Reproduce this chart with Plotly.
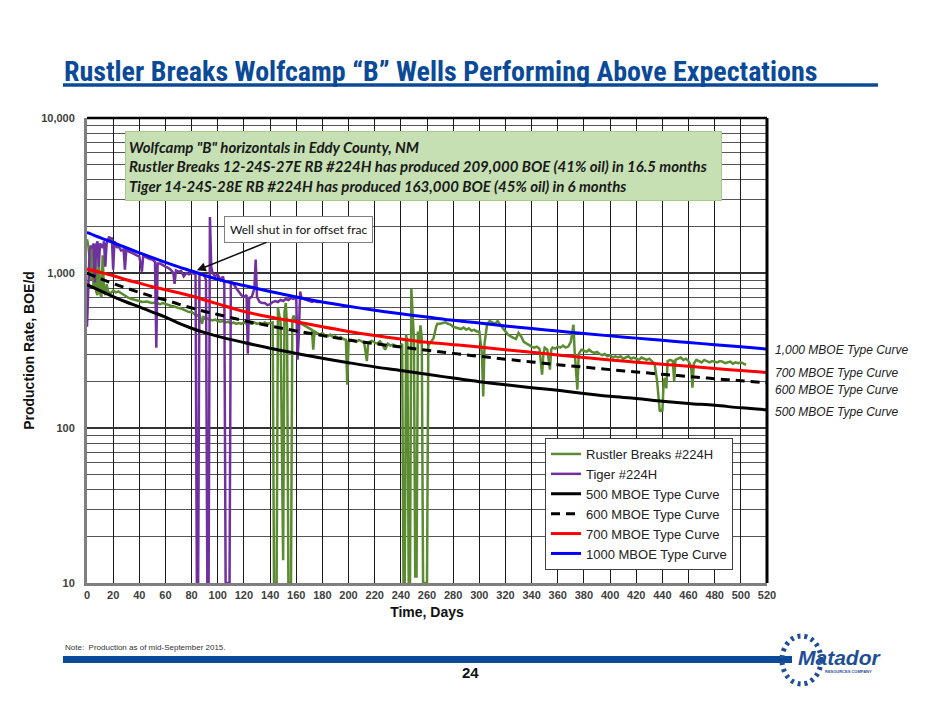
import plotly.graph_objects as go
import math

# ---------------- data ----------------
rb_days = [0,1,2,3,4,5,6,7,8,9,10,11,12,13,14,15,16,18,20,22,24,26,28,30,32,34,36,38,40,42,44,46,48,50,
           52,54,56,58,60,62,64,66,68,70,72,74,76,78,80,82,84,86,88,89,90,92,94,96,98,100,102,104,106,108,
           110,112,114,116,118,120,122,124,126,128,130,132,134,136,138,140,142,143,144,145,146,147,148,150,
           151,152,153,154,155,156,157,158,160,162,164,166,168,170,172,173,174,176,178,180,182,184,186,188,
           190,192,194,196,198,199,200,202,204,206,208,210,212,214,215,216,218,220,222,224,226,228,230,232,
           234,236,238,240,241,242,243,244,245,246,247,248,249,250,251,252,253,254,255,256,257,258,259,260,
           261,263,265,267,268,270,272,274,276,278,280,282,284,286,288,290,292,294,296,298,300,302,303,304,
           306,308,310,312,314,316,318,320,322,324,326,328,330,332,334,336,338,340,342,344,346,348,349,350,
           352,354,355,356,358,360,362,364,366,368,370,372,373,375,376,378,380,382,384,386,388,390,392,394,
           396,398,400,402,404,406,408,410,412,414,416,418,420,422,424,426,428,430,432,434,436,437,438,439,
           440,441,442,443,444,446,448,449,450,452,454,456,458,460,462,463,464,466,468,470,472,474,476,478,
           480,482,484,486,488,490,492,494,496,498,500,502,504]
rb_boe = [1650,1500,1250,900,1450,800,1550,760,720,1250,740,700,1300,760,720,850,760,740,770,750,760,740,720,700,690,680,675,670,660,650,650,655,645,640,
          645,640,630,640,630,620,615,610,600,595,590,580,575,560,560,545,530,540,470,520,515,505,500,495,500,490,485,490,480,485,
          470,480,470,475,470,480,470,475,470,480,470,475,470,480,470,475,480,10,10,10,600,520,480,14,
          560,640,450,10,10,10,500,530,500,480,470,460,450,440,430,320,420,410,400,410,395,390,400,385,
          390,380,385,375,370,190,360,370,365,360,370,360,355,270,350,360,365,355,350,362,345,320,350,340,
          345,340,335,340,350,10,10,400,350,10,10,790,500,380,11,11,420,350,460,380,10,10,10,10,
          340,360,380,450,470,470,475,480,470,465,450,445,440,435,445,430,440,425,430,420,420,300,160,350,
          470,490,480,470,490,460,440,420,400,390,380,375,410,390,360,350,340,335,330,335,325,221,300,330,
          320,238,320,330,325,335,330,340,330,335,360,464,300,177,300,320,315,310,320,310,305,310,300,295,
          300,290,295,285,290,285,290,280,285,290,280,285,280,275,285,280,275,280,270,260,200,150,128,130,
          128,200,210,180,270,275,270,200,275,280,285,275,280,270,250,182,260,275,270,265,275,270,265,270,
          268,265,270,268,262,265,268,260,265,262,265,260,255]

tiger_days = [0,1,2,3,4,5,6,7,8,9,10,11,12,13,14,15,16,17,18,19,20,21,22,23,24,25,26,28,29,30,32,34,36,38,40,
              42,43,44,46,48,50,52,53,54,56,58,60,62,64,66,67,68,70,72,74,76,78,80,82,83,84,85,86,88,90,91,
              92,93,94,95,96,98,100,102,104,105,106,107,108,109,110,112,114,116,118,120,122,123,124,126,128,
              129,130,132,134,136,138,140,142,144,146,148,150,152,154,156,158,160,161,162,163,164,166,168,170,
              172,174,176,178]
tiger_boe = [450,900,1400,1500,1450,1550,870,1500,1600,1100,1550,1500,1450,1600,1100,1550,1650,1720,1600,1700,1050,1600,1550,1450,1500,1450,1400,1420,1050,1400,1380,1350,1330,1300,1280,
             1020,1300,1280,1250,1230,1220,1180,330,1150,1150,1120,1100,1080,1050,1000,850,1040,1020,1030,950,1000,980,1000,990,970,10,10,1000,990,950,900,
             10,10,2300,1100,1000,950,980,900,950,850,10,10,10,10,880,850,800,760,720,700,720,302,690,700,800,
             1220,700,650,640,640,620,630,650,660,650,670,660,680,670,690,680,700,276,400,760,690,680,670,660,
             650,660,650,650]

tc_days = [0,10,20,30,40,50,60,70,80,90,100,120,140,160,180,200,220,240,260,280,300,320,340,360,380,400,420,440,460,480,500,520]
tc_500 = [840,770,705,650,605,560,520,475,440,412,390,356,327,303,282,264,248,235,222,210,199,190,182,175,167,160,155,149,144,140,135,131]
tc_600 = [1000,920,855,800,750,705,670,630,595,565,540,493,455,423,395,370,350,333,317,303,290,278,267,256,247,238,230,222,215,208,202,195]
tc_700 = [1060,1010,960,905,860,815,780,745,710,670,632,565,520,485,450,420,395,375,357,345,333,320,308,296,285,275,266,258,250,242,235,228]
tc_1000 = [1830,1690,1570,1455,1350,1255,1170,1095,1030,965,910,830,760,700,650,610,575,545,520,495,475,455,438,422,407,393,380,368,356,345,334,323]

series_names = ["Rustler Breaks #224H", "Tiger #224H", "500 MBOE Type Curve",
                "600 MBOE Type Curve", "700 MBOE Type Curve", "1000 MBOE Type Curve"]
right_labels = ["1,000 MBOE Type Curve", "700 MBOE Type Curve", "600 MBOE Type Curve", "500 MBOE Type Curve"]
right_label_vals = [320, 227, 177, 127]

y_tickvals = [10, 100, 1000, 10000]
y_ticktext = ["10", "100", "1,000", "10,000"]

# ---------------- figure ----------------
OFF = 8            # page body margin
W, H = 940 - 2 * OFF, 705 - 2 * OFF
L, R, T, B = 87, 767, 118, 583   # plot area in screenshot pixels

def px(xp):
    return (xp - L) / (R - L)

def py(yp):
    return (B - yp) / (B - T)

fig = go.Figure()
fig.add_trace(go.Scatter(x=rb_days, y=rb_boe, name=series_names[0], mode="lines",
                         line=dict(color="#5b8c32", width=2.5)))
fig.add_trace(go.Scatter(x=tiger_days, y=tiger_boe, name=series_names[1], mode="lines",
                         line=dict(color="#7030a0", width=2.5)))
fig.add_trace(go.Scatter(x=tc_days, y=tc_500, name=series_names[2], mode="lines",
                         line=dict(color="#000000", width=3, shape="spline")))
fig.add_trace(go.Scatter(x=tc_days, y=tc_600, name=series_names[3], mode="lines",
                         line=dict(color="#000000", width=3, dash="9px,6px", shape="spline")))
fig.add_trace(go.Scatter(x=tc_days, y=tc_700, name=series_names[4], mode="lines",
                         line=dict(color="#ff0000", width=3, shape="spline")))
fig.add_trace(go.Scatter(x=tc_days, y=tc_1000, name=series_names[5], mode="lines",
                         line=dict(color="#0000ff", width=3, shape="spline")))

fig.update_layout(
    width=W, height=H,
    margin=dict(l=L - OFF, r=W - (R - OFF), t=T - OFF, b=H - (B - OFF), pad=0),
    paper_bgcolor="white", plot_bgcolor="white",
    showlegend=True,
    legend=dict(x=px(545), y=py(570), xanchor="left", yanchor="bottom",
                bgcolor="white", bordercolor="#404040", borderwidth=1,
                font=dict(family="Liberation Sans, Arial, sans-serif", size=13, color="#222222"),
                tracegroupgap=0, itemwidth=30),
    xaxis=dict(range=[0, 520], dtick=20, tick0=0, showgrid=True, gridcolor="#1a1a1a", gridwidth=1,
               zeroline=False, showline=True, linecolor="#7f7f7f", linewidth=3, mirror=False,
               ticks="", tickfont=dict(family="Liberation Sans, Arial, sans-serif", size=11, color="#404040", weight="bold"),
               title=dict(text="<b>Time, Days</b>", font=dict(family="Liberation Sans, Arial, sans-serif", size=14, color="#111111"), standoff=7)),
    yaxis=dict(type="log", range=[1, 4], tickvals=y_tickvals, ticktext=y_ticktext,
               showgrid=True, gridcolor="#333333", gridwidth=1.5,
               minor=dict(dtick="D1", showgrid=True, gridcolor="#555555", gridwidth=1.3, ticks=""),
               zeroline=False, showline=True, linecolor="#7f7f7f", linewidth=3,
               ticks="", tickfont=dict(family="Liberation Sans, Arial, sans-serif", size=11, color="#404040", weight="bold"),
               ticklabelstandoff=7,
               title=dict(text="<b>Production Rate, BOE/d</b>", font=dict(family="Liberation Sans, Arial, sans-serif", size=14, color="#111111"), standoff=4)),
)

shapes = []
# black top / right frame
shapes.append(dict(type="line", xref="paper", yref="paper", x0=0, x1=1, y0=1, y1=1, line=dict(color="black", width=2.5)))
shapes.append(dict(type="line", xref="paper", yref="paper", x0=1, x1=1, y0=0, y1=1, line=dict(color="black", width=3)))
# title underline
shapes.append(dict(type="line", xref="paper", yref="paper", x0=px(63), x1=px(878), y0=py(85), y1=py(85), line=dict(color="#0b4a99", width=3.5)))
# bottom bar
shapes.append(dict(type="rect", xref="paper", yref="paper", x0=px(63), x1=px(792), y0=py(663), y1=py(656), line=dict(width=0), fillcolor="#0b4a99"))
# logo ring
shapes.append(dict(type="circle", xref="paper", yref="paper", x0=px(782), x1=px(821), y0=py(684), y1=py(636),
                   line=dict(color="#1f4e96", width=5, dash="3px,4px")))
fig.update_layout(shapes=shapes)

annotations = []
annotations.append(dict(xref="paper", yref="paper", x=px(62), y=py(71), xanchor="left", yanchor="middle", showarrow=False,
                        text="<b>Rustler Breaks Wolfcamp “B” Wells Performing Above Expectations</b>",
                        font=dict(family="Liberation Sans Narrow, Arial Narrow, Roboto Condensed, Liberation Sans, sans-serif", size=28, color="#0b4a99")))
annotations.append(dict(xref="paper", yref="paper", x=px(125), y=py(131), xanchor="left", yanchor="top", showarrow=False,
                        align="left", width=589, height=62, valign="middle",
                        bgcolor="#c6e0b4", bordercolor="#a9c98f", borderwidth=1, borderpad=3,
                        text="<b><i>Wolfcamp \"B\" horizontals in Eddy County, NM<br>"
                             "Rustler Breaks 12-24S-27E RB #224H has produced 209,000 BOE (41% oil) in 16.5 months<br>"
                             "Tiger 14-24S-28E RB #224H has produced 163,000 BOE (45% oil) in 6 months</i></b>",
                        font=dict(family="Lato, Open Sans, sans-serif", size=15, color="#1a1a1a")))
annotations.append(dict(xref="x", yref="y", x=84, y=math.log10(1040), ax=102, ay=-41, axref="pixel", ayref="pixel",
                        showarrow=True, arrowhead=2, arrowsize=1.2, arrowwidth=1.5, arrowcolor="#111111",
                        text="Well shut in for offset frac", bgcolor="white", bordercolor="#7f7f7f", borderwidth=1, borderpad=5,
                        font=dict(family="Lato, Open Sans, sans-serif", size=12, color="#111111")))
for lab, v in zip(right_labels, right_label_vals):
    annotations.append(dict(xref="paper", yref="y", x=px(773), y=math.log10(v), xanchor="left", yanchor="middle",
                            showarrow=False, text="<i>" + lab + "</i>",
                            font=dict(family="Liberation Sans, Arial, sans-serif", size=12, color="#222222")))
annotations.append(dict(xref="paper", yref="paper", x=px(63), y=py(647), xanchor="left", yanchor="middle", showarrow=False,
                        text="Note:  Production as of mid-September 2015.",
                        font=dict(family="Liberation Sans Narrow, Liberation Sans, sans-serif", size=8, color="#333333")))
annotations.append(dict(xref="paper", yref="paper", x=px(470), y=py(672), xanchor="center", yanchor="middle", showarrow=False,
                        text="<b>24</b>", font=dict(family="Liberation Sans Narrow, Liberation Sans, sans-serif", size=15, color="#111111")))
annotations.append(dict(xref="paper", yref="paper", x=px(840), y=py(657), xanchor="center", yanchor="middle", showarrow=False,
                        text="<b><i>Matador</i></b>", font=dict(family="Liberation Sans Narrow, Liberation Sans, sans-serif", size=21, color="#1f4e96")))
annotations.append(dict(xref="paper", yref="paper", x=px(848), y=py(671), xanchor="center", yanchor="middle", showarrow=False,
                        text="<b>RESOURCES COMPANY</b>", font=dict(family="Liberation Sans, sans-serif", size=4, color="#1f4e96")))
fig.update_layout(annotations=annotations)

fig.write_html("out.html")
